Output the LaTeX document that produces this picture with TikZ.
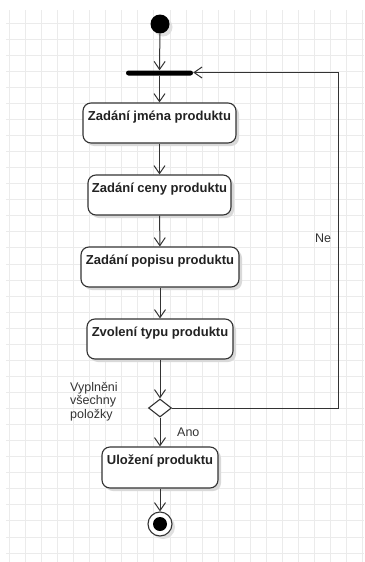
\documentclass[tikz,border=0pt]{standalone}
\usepackage{fontspec}
\setmainfont{Liberation Sans}
\usetikzlibrary{arrows.meta,shapes.geometric,shadows}
\definecolor{gridc}{HTML}{EBEBEB}
\definecolor{linec}{HTML}{333333}
\definecolor{txtc}{HTML}{222222}
\tikzset{
  action/.style={draw=linec, line width=1.1pt, rounded corners=8pt, fill=white,
    inner sep=0pt, drop shadow={shadow xshift=3pt, shadow yshift=-3pt, fill=black!15, opacity=1}},
  acttext/.style={font=\bfseries\fontsize{13}{15}\selectfont, text=txtc},
  flow/.style={draw=linec, line width=1pt, -{Straight Barb[length=8pt,width=11pt,line width=1pt]}},
  guard/.style={font=\fontsize{12.5}{13.5}\selectfont, text=linec, inner sep=0pt}
}
\begin{document}
\begin{tikzpicture}[x=1pt,y=-1pt]
\useasboundingbox (0,0) rectangle (364,562);
\fill[white] (0,0) rectangle (364,562);
% background grid
\foreach \k in {0,...,22} \draw[gridc, line width=0.8pt] ({9.3+16.06*\k},10) -- ({9.3+16.06*\k},562);
\foreach \k in {0,...,33} \draw[gridc, line width=0.8pt] (6,{23+16.06*\k}) -- (364,{23+16.06*\k});

% initial node and fork bar
\node[circle, fill=black, minimum size=19pt, inner sep=0pt,
  drop shadow={shadow xshift=3pt, shadow yshift=-3pt, fill=black!12, opacity=1}] (start) at (160,24) {};
\node[fill=black, rounded corners=2.5pt, minimum width=67pt, minimum height=5pt, inner sep=0pt] (bar) at (159.5,73) {};

% actions
\node[action, minimum width=153pt, minimum height=40pt,
  label={[acttext, anchor=base, yshift=-18.5pt]north:Zadání jména produktu}] (a1) at (159.5,123) {};
\node[action, minimum width=143pt, minimum height=40pt,
  label={[acttext, anchor=base, yshift=-18.5pt]north:Zadání ceny produktu}] (a2) at (159.5,195) {};
\node[action, minimum width=158pt, minimum height=40pt,
  label={[acttext, anchor=base, yshift=-18.5pt]north:Zadání popisu produktu}] (a3) at (160,267) {};
\node[action, minimum width=146pt, minimum height=40pt,
  label={[acttext, anchor=base, yshift=-18.5pt]north:Zvolení typu produktu}] (a4) at (160,339) {};
\node[diamond, draw=linec, line width=1.1pt, fill=white, minimum width=23pt, minimum height=18pt, inner sep=0pt] (dec) at (160,408) {};
\node[action, minimum width=116pt, minimum height=41pt,
  label={[acttext, anchor=base, yshift=-18.5pt]north:Uložení produktu}] (a5) at (160,467.5) {};

% final node
\node[circle, draw=linec, line width=1.1pt, fill=white, minimum size=24pt, inner sep=0pt,
  drop shadow={shadow xshift=3pt, shadow yshift=-3pt, fill=black!12, opacity=1}] (end) at (160,524) {};
\fill[black] (end.center) circle (7pt);

% flows
\draw[flow] (start) -- (bar);
\draw[flow] (bar) -- (a1);
\draw[flow] (a1) -- (a2);
\draw[flow] (a2) -- (a3);
\draw[flow] (a3) -- (a4);
\draw[flow] (a4) -- (dec);
\draw[flow] (dec) -- (a5);
\draw[flow] (a5) -- (end);
\coordinate (lb) at (338,408);
\coordinate (lt) at (338,72.5);
\draw[flow] (dec.east) -- (lb) -- (lt) -- (bar.east |- lt);

% guards
\node[guard, anchor=west] (ne) at (315,238) {Ne};
\node[guard, anchor=west] (ano) at (177,432) {Ano};
\node[guard, anchor=west, align=left] (cond) at (70,401.5) {Vyplněni\\všechny\\položky};
\end{tikzpicture}
\end{document}
